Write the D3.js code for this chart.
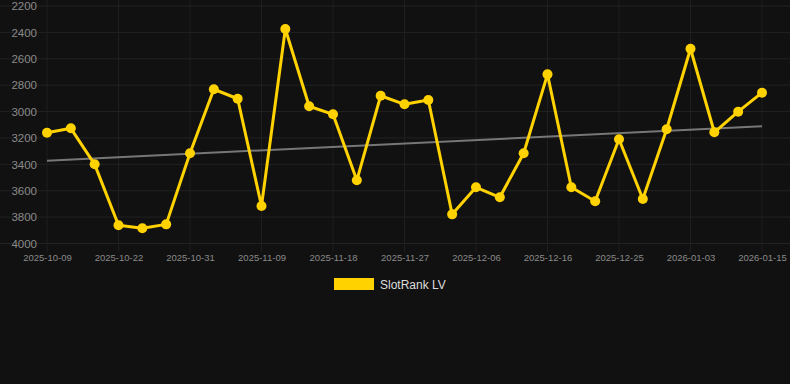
<!DOCTYPE html>
<html>
<head>
<meta charset="utf-8">
<script src="https://cdn.jsdelivr.net/npm/d3@7"></script>
<style>
  html, body { margin: 0; padding: 0; background: #111111; }
  svg { display: block; font-family: "Liberation Sans", Arial, sans-serif; }
</style>
</head>
<body>
<div id="chart"></div>
<script>
// dates of each sample (only every third one is labelled on the axis)
const dates = [
  "2025-10-09", "2025-10-13", "2025-10-17", "2025-10-22", "2025-10-25", "2025-10-28",
  "2025-10-31", "2025-11-03", "2025-11-06", "2025-11-09", "2025-11-12", "2025-11-15",
  "2025-11-18", "2025-11-21", "2025-11-24", "2025-11-27", "2025-11-30", "2025-12-03",
  "2025-12-06", "2025-12-09", "2025-12-12", "2025-12-16", "2025-12-19", "2025-12-22",
  "2025-12-25", "2025-12-28", "2025-12-31", "2026-01-03", "2026-01-07", "2026-01-11",
  "2026-01-15"
];
const rankValues = [
  3160, 3127, 3400, 3862, 3885, 3855, 3316, 2831, 2903, 3716, 2374,
  2960, 3021, 3521, 2880, 2945, 2912, 3779, 3574, 3650, 3316, 2718,
  3574, 3680, 3210, 3663, 3134, 2524, 3157, 3001, 2857
];
const yTicks = [2200, 2400, 2600, 2800, 3000, 3200, 3400, 3600, 3800, 4000];
const seriesName = "SlotRank LV";

const width = 790, height = 384;
const lineColor = "#ffd200";

const svg = d3.select("#chart").append("svg")
  .attr("width", width)
  .attr("height", height);

svg.append("rect").attr("width", width).attr("height", height).attr("fill", "#111111");

const x = d3.scalePoint().domain(dates).range([47, 762]);
const y = d3.scaleLinear().domain([2200, 4000]).range([6, 243.5]);

const labelDates = dates.filter((d, i) => i % 3 === 0);

// grid
svg.append("g").selectAll("line.h")
  .data(yTicks).enter().append("line")
  .attr("x1", 0).attr("x2", width)
  .attr("y1", d => y(d)).attr("y2", d => y(d))
  .attr("stroke", "#222222").attr("stroke-width", 1);

svg.append("g").selectAll("line.v")
  .data(labelDates).enter().append("line")
  .attr("x1", d => x(d)).attr("x2", d => x(d))
  .attr("y1", 0).attr("y2", 252)
  .attr("stroke", "#1f1f1f").attr("stroke-width", 1);

// y axis labels
const yAxis = d3.axisLeft(y).tickValues(yTicks).tickSize(0).tickPadding(0).tickFormat(d3.format("d"));
svg.append("g")
  .attr("transform", "translate(37,0)")
  .call(yAxis)
  .call(g => g.select(".domain").remove())
  .call(g => g.selectAll("text")
    .attr("fill", "#8a8a8a")
    .style("font-size", "11.5px")
    .style("font-family", "'Liberation Sans', Arial, sans-serif"));

// x axis labels
const xAxis = d3.axisBottom(x).tickValues(labelDates).tickSize(0).tickPadding(0);
svg.append("g")
  .attr("transform", "translate(0,254)")
  .call(xAxis)
  .call(g => g.select(".domain").remove())
  .call(g => g.selectAll("text")
    .attr("fill", "#8a8a8a")
    .style("font-size", "9.5px")
    .style("font-family", "'Liberation Sans', Arial, sans-serif"));

// trend line (least squares over the samples)
const n = rankValues.length;
const idx = d3.range(n);
const mx = d3.mean(idx), my = d3.mean(rankValues);
const slope = d3.sum(idx, i => (i - mx) * (rankValues[i] - my)) / d3.sum(idx, i => (i - mx) * (i - mx));
const intercept = my - slope * mx;
svg.append("line")
  .attr("x1", x(dates[0])).attr("y1", y(intercept))
  .attr("x2", x(dates[n - 1])).attr("y2", y(intercept + slope * (n - 1)))
  .attr("stroke", "#777777").attr("stroke-width", 2);

// series line
const points = dates.map((d, i) => ({ date: d, value: rankValues[i] }));
const line = d3.line().x(d => x(d.date)).y(d => y(d.value));

svg.append("path")
  .datum(points)
  .attr("d", line)
  .attr("fill", "none")
  .attr("stroke", lineColor)
  .attr("stroke-width", 3)
  .attr("stroke-linejoin", "round");

svg.append("g").selectAll("circle")
  .data(points).enter().append("circle")
  .attr("cx", d => x(d.date))
  .attr("cy", d => y(d.value))
  .attr("r", 5)
  .attr("fill", lineColor);

// legend
const legend = svg.append("g").attr("transform", "translate(334,278)");
legend.append("rect").attr("width", 40).attr("height", 12).attr("fill", lineColor);
legend.append("text")
  .attr("x", 46).attr("y", 10.5)
  .attr("fill", "#dddddd")
  .style("font-size", "12px")
  .text(seriesName);
</script>
</body>
</html>
